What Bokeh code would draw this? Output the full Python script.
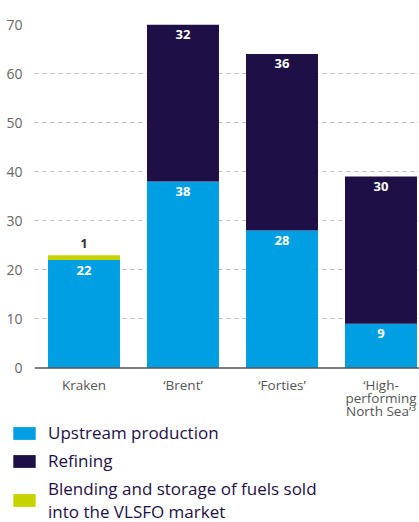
from bokeh.plotting import figure
from bokeh.models import Range1d, FixedTicker, Legend, LegendItem, ColumnDataSource, Span
from bokeh.layouts import column
from bokeh.core.properties import value
from bokeh.embed import file_html
from bokeh.resources import INLINE

categories = ["Kraken", "\u2018Brent\u2019", "\u2018Forties\u2019", "\u2018High-\nperforming\nNorth Sea\u2019\u00b3"]
upstream = [22, 38, 28, 9]
refining = [0, 32, 36, 30]
blending = [1, 0, 0, 0]
y_ticks = [0, 10, 20, 30, 40, 50, 60, 70]
series_names = ["Upstream production", "Refining", "Blending and storage of fuels sold\ninto the VLSFO market"]

BLUE = "#009FE3"
NAVY = "#1E1046"
LIME = "#C6D300"
FONT = "Open Sans"

xs = [i + 0.5 for i in range(len(categories))]
up_top = list(upstream)
ref_top = [u + r for u, r in zip(upstream, refining)]
bl_top = [u + r + b for u, r, b in zip(upstream, refining, blending)]

src = ColumnDataSource(dict(
    x=xs, cat=categories, base=[0] * len(categories),
    up_top=up_top, ref_top=ref_top, bl_top=bl_top,
    up_lbl=[str(v) if v else "" for v in upstream],
    ref_lbl=[str(v) if v else "" for v in refining],
    bl_lbl=[str(v) if v else "" for v in blending],
))

# chart panel: frame 34..419 px wide, 24..420 px tall; value 0 sits 52.5 px above its bottom
PX_PER_UNIT = 343.5 / 70
p = figure(width=419, height=420, output_backend="svg", toolbar_location=None,
           x_range=Range1d(0, 385 / 99), y_range=Range1d(-52.5 / PX_PER_UNIT, 70),
           min_border_left=34, min_border_top=24, min_border_right=0, min_border_bottom=0,
           frame_align=False)
p.outline_line_color = None

w = 0.727
r_up = p.vbar(x="x", bottom=0, top="up_top", width=w, fill_color=BLUE, line_color=None, source=src)
r_ref = p.vbar(x="x", bottom="up_top", top="ref_top", width=w, fill_color=NAVY, line_color=None, source=src)
r_bl = p.vbar(x="x", bottom="ref_top", top="bl_top", width=w, fill_color=LIME, line_color=None, source=src)

lbl_style = dict(text_font=value(FONT), text_font_style="bold", text_font_size="13px",
                 text_align="center", text_baseline="middle")
p.text(x="x", y="up_top", text="up_lbl", source=src, text_color="white", y_offset=10, **lbl_style)
p.text(x="x", y="ref_top", text="ref_lbl", source=src, text_color="white", y_offset=10, **lbl_style)
p.text(x="x", y="bl_top", text="bl_lbl", source=src, text_color="#333333", y_offset=-12, **lbl_style)

# baseline
p.add_layout(Span(location=0, dimension="width", line_color="#555555", line_width=1.5))

# category labels under the baseline
p.text(x="x", y="base", text="cat", source=src, text_color="#555555", text_font=value(FONT),
       text_font_size="13.5px", text_align="center", text_baseline="top", text_line_height=0.72,
       y_offset=8)

# y axis
p.yaxis.ticker = FixedTicker(ticks=y_ticks)
p.yaxis.axis_line_color = None
p.yaxis.major_tick_line_color = None
p.yaxis.minor_tick_line_color = None
p.yaxis.major_label_text_font = FONT
p.yaxis.major_label_text_font_size = "14px"
p.yaxis.major_label_text_color = "#666666"
p.yaxis.major_label_standoff = 6
p.xaxis.visible = False

p.xgrid.grid_line_color = None
p.ygrid.ticker = FixedTicker(ticks=y_ticks[1:])
p.ygrid.grid_line_color = "#BBBBBB"
p.ygrid.grid_line_dash = "4 4"
p.ygrid.grid_line_width = 1

# legend panel below the chart (hidden copies of the bars feed the legend swatches)
lg = figure(width=419, height=102, output_backend="svg", toolbar_location=None,
            x_axis_location=None, y_axis_location=None,
            min_border_left=10, min_border_top=1, min_border_right=0, min_border_bottom=0,
            frame_align=False)
lg.grid.visible = False
lg.outline_line_color = None
h_up = lg.vbar(x="x", bottom=0, top="up_top", width=w, fill_color=BLUE, line_color=None, source=src, visible=False)
h_ref = lg.vbar(x="x", bottom="up_top", top="ref_top", width=w, fill_color=NAVY, line_color=None, source=src, visible=False)
h_bl = lg.vbar(x="x", bottom="ref_top", top="bl_top", width=w, fill_color=LIME, line_color=None, source=src, visible=False)

legend = Legend(items=[
    LegendItem(label=series_names[0], renderers=[h_up]),
    LegendItem(label=series_names[1], renderers=[h_ref]),
    LegendItem(label=series_names[2], renderers=[h_bl]),
], location="top_left", orientation="vertical")
legend.glyph_width = 28
legend.glyph_height = 16
legend.label_standoff = 10
legend.label_text_font = FONT
legend.label_text_font_size = "17px"
legend.label_text_line_height = 0.73
legend.label_text_color = NAVY
legend.spacing = 5
legend.padding = 0
legend.margin = 0
legend.border_line_color = None
legend.background_fill_alpha = 0
lg.add_layout(legend)

layout = column(p, lg, spacing=0)
open("out.html", "w").write(file_html(layout, INLINE))
